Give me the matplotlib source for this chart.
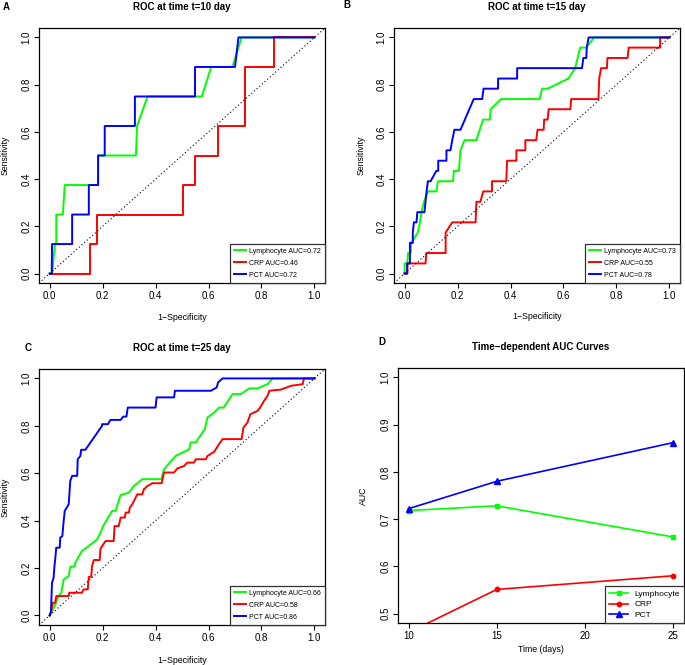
import numpy as np
import matplotlib
matplotlib.use("Agg")
import matplotlib.pyplot as plt

plt.rcParams['font.family'] = ['Liberation Sans', 'DejaVu Sans']
plt.rcParams['axes.linewidth'] = 0.9

# ---- ROC data, t=10 day
a_lym_fpr = [0, 0.01, 0.02, 0.025, 0.025, 0.05, 0.057, 0.183, 0.183, 0.326, 0.33, 0.37, 0.54, 0.575, 0.61, 0.69, 0.725, 1.0]
a_lym_tpr = [0, 0.0, 0.125, 0.125, 0.25, 0.25, 0.375, 0.375, 0.5, 0.5, 0.625, 0.75, 0.75, 0.75, 0.875, 0.875, 1.0, 1.0]
a_crp_fpr = [0, 0.152, 0.152, 0.179, 0.179, 0.505, 0.505, 0.548, 0.548, 0.634, 0.634, 0.739, 0.739, 0.848, 0.848, 1.0]
a_crp_tpr = [0, 0, 0.125, 0.125, 0.25, 0.25, 0.375, 0.375, 0.5, 0.5, 0.625, 0.625, 0.875, 0.875, 1.0, 1.0]
a_pct_fpr = [0, 0.008, 0.009, 0.085, 0.085, 0.148, 0.148, 0.183, 0.183, 0.208, 0.208, 0.322, 0.322, 0.549, 0.549, 0.70, 0.713, 1.0]
a_pct_tpr = [0, 0, 0.125, 0.125, 0.25, 0.25, 0.375, 0.375, 0.5, 0.5, 0.625, 0.625, 0.75, 0.75, 0.875, 0.875, 1.0, 1.0]

# ---- ROC data, t=15 day
b_lym_fpr = [0, 0, 0.01, 0.013, 0.023, 0.025, 0.05, 0.058, 0.064, 0.073, 0.088, 0.12, 0.126, 0.183, 0.186, 0.205, 0.211, 0.226,
             0.271, 0.296, 0.322, 0.325, 0.364, 0.51, 0.519, 0.54, 0.619, 0.644, 0.663, 0.686, 0.716, 1.0]
b_lym_tpr = [0, 0.043, 0.043, 0.087, 0.087, 0.13, 0.174, 0.217, 0.26, 0.304, 0.348, 0.348, 0.391, 0.391, 0.435, 0.435, 0.522, 0.565,
             0.565, 0.652, 0.652, 0.696, 0.739, 0.739, 0.783, 0.783, 0.826, 0.87, 0.957, 0.957, 1.0, 1.0]
b_crp_fpr = [0, 0.01, 0.01, 0.079, 0.082, 0.155, 0.155, 0.18, 0.268, 0.271, 0.286, 0.297, 0.33, 0.33, 0.384, 0.387, 0.422, 0.422,
             0.456, 0.456, 0.497, 0.502, 0.525, 0.527, 0.54, 0.544, 0.626, 0.629, 0.732, 0.735, 0.742, 0.764, 0.766, 0.842,
             0.846, 0.965, 0.965, 1.0]
b_crp_tpr = [0, 0, 0.043, 0.043, 0.087, 0.087, 0.174, 0.217, 0.217, 0.304, 0.304, 0.348, 0.348, 0.391, 0.391, 0.478, 0.478, 0.522,
             0.522, 0.565, 0.565, 0.609, 0.609, 0.652, 0.652, 0.696, 0.696, 0.739, 0.739, 0.826, 0.87, 0.87, 0.913, 0.913,
             0.957, 0.957, 1.0, 1.0]
b_pct_fpr = [0, 0.01, 0.01, 0.02, 0.02, 0.031, 0.031, 0.035, 0.045, 0.048, 0.075, 0.079, 0.083, 0.088, 0.098, 0.12, 0.127, 0.127,
             0.158, 0.158, 0.173, 0.18, 0.188, 0.211, 0.261, 0.293, 0.298, 0.353, 0.353, 0.425, 0.425, 0.67, 0.675, 0.686,
             0.688, 0.695, 1.0]
b_pct_tpr = [0, 0, 0.043, 0.043, 0.13, 0.13, 0.174, 0.217, 0.217, 0.26, 0.26, 0.304, 0.348, 0.391, 0.391, 0.435, 0.435, 0.478,
             0.478, 0.522, 0.522, 0.565, 0.609, 0.609, 0.739, 0.739, 0.783, 0.783, 0.826, 0.826, 0.87, 0.87, 0.913, 0.913,
             0.957, 1.0, 1.0]

# ---- ROC data, t=25 day
c_lym_fpr = [0, 0.009, 0.021, 0.034, 0.044, 0.053, 0.072, 0.078, 0.093, 0.097, 0.122, 0.164, 0.179, 0.192, 0.202, 0.236, 0.249,
             0.268, 0.299, 0.318, 0.35, 0.422, 0.432, 0.476, 0.527, 0.533, 0.552, 0.586, 0.596, 0.621, 0.64, 0.657, 0.691,
             0.722, 0.754, 0.785, 0.823, 0.842, 1.0]
c_lym_tpr = [0, 0.018, 0.046, 0.082, 0.096, 0.152, 0.166, 0.206, 0.206, 0.223, 0.272, 0.307, 0.321, 0.349, 0.377, 0.441, 0.441,
             0.508, 0.518, 0.546, 0.575, 0.575, 0.617, 0.673, 0.701, 0.73, 0.73, 0.786, 0.835, 0.856, 0.877, 0.877, 0.934,
             0.934, 0.958, 0.958, 0.976, 1.0, 1.0]
c_crp_fpr = [0, 0.005, 0.009, 0.013, 0.021, 0.025, 0.072, 0.074, 0.122, 0.128, 0.144, 0.148, 0.157, 0.16, 0.167, 0.189, 0.192,
             0.211, 0.242, 0.245, 0.261, 0.268, 0.284, 0.287, 0.299, 0.303, 0.312, 0.331, 0.35, 0.356, 0.369, 0.388, 0.423,
             0.432, 0.47, 0.482, 0.508, 0.52, 0.545, 0.552, 0.59, 0.596, 0.621, 0.64, 0.653, 0.725, 0.732, 0.747, 0.758,
             0.785, 0.795, 0.81, 0.823, 0.83, 0.874, 0.912, 0.956, 0.96, 1.0]
c_crp_tpr = [0, 0.011, 0.039, 0.054, 0.054, 0.082, 0.082, 0.096, 0.096, 0.11, 0.11, 0.163, 0.163, 0.208, 0.234, 0.234, 0.282,
             0.314, 0.314, 0.377, 0.377, 0.413, 0.413, 0.434, 0.434, 0.455, 0.469, 0.511, 0.511, 0.532, 0.546, 0.558, 0.558,
             0.603, 0.603, 0.62, 0.631, 0.645, 0.645, 0.659, 0.659, 0.673, 0.69, 0.723, 0.744, 0.744, 0.793, 0.814, 0.849,
             0.863, 0.877, 0.906, 0.927, 0.948, 0.953, 0.969, 0.976, 1.0, 1.0]
c_pct_fpr = [0, 0.005, 0.009, 0.015, 0.018, 0.021, 0.025, 0.038, 0.04, 0.048, 0.053, 0.057, 0.072, 0.078, 0.085, 0.104, 0.106,
             0.116, 0.119, 0.135, 0.198, 0.198, 0.22, 0.23, 0.268, 0.278, 0.29, 0.295, 0.4, 0.404, 0.47, 0.473, 0.609,
             0.631, 0.636, 0.653, 1.0]
c_pct_tpr = [0, 0.018, 0.138, 0.159, 0.206, 0.237, 0.286, 0.286, 0.328, 0.335, 0.399, 0.441, 0.469, 0.568, 0.589, 0.589, 0.659,
             0.673, 0.699, 0.699, 0.8, 0.807, 0.807, 0.825, 0.825, 0.839, 0.839, 0.877, 0.877, 0.92, 0.92, 0.948, 0.948,
             0.962, 0.983, 1.0, 1.0]

# ---- time dependent AUC
days = [10, 15, 25]
auc_lym = [0.718, 0.728, 0.662]
auc_crp = [0.46, 0.551, 0.58]
auc_pct = [0.722, 0.78, 0.862]

markers = ["Lymphocyte", "CRP", "PCT"]
colors = ["#00ff00", "#ff0000", "#0000ff"]

panels = [
    ("ROC at time t=10 day", [(a_lym_fpr, a_lym_tpr), (a_crp_fpr, a_crp_tpr), (a_pct_fpr, a_pct_tpr)], ["0.72", "0.46", "0.72"]),
    ("ROC at time t=15 day", [(b_lym_fpr, b_lym_tpr), (b_crp_fpr, b_crp_tpr), (b_pct_fpr, b_pct_tpr)], ["0.73", "0.55", "0.78"]),
    ("ROC at time t=25 day", [(c_lym_fpr, c_lym_tpr), (c_crp_fpr, c_crp_tpr), (c_pct_fpr, c_pct_tpr)], ["0.66", "0.58", "0.86"]),
]
positions = [[0.057, 0.5744, 0.4175, 0.3835],
             [0.5752, 0.5744, 0.4175, 0.3835],
             [0.057, 0.0602, 0.4175, 0.385]]
ylab_x = [-0.119, -0.115, -0.119]
xlab_y = [-0.137, -0.133, -0.137]

fig = plt.figure(figsize=(6.85, 6.65), dpi=100)

def style_axes(ax):
    ax.tick_params(direction='out', length=3.5, width=0.8, labelsize=7, pad=2)
    for lab in ax.get_yticklabels():
        lab.set_rotation(90)
        lab.set_va('center')

def place_labels(ax, xl, yl, lx, ly):
    ax.set_xlabel(xl, fontsize=6.3)
    ax.set_ylabel(yl, fontsize=6.3)
    ax.xaxis.set_label_coords(0.5, ly)
    ax.yaxis.set_label_coords(lx, 0.5)
    ax.xaxis.label.set_va('center')
    ax.yaxis.label.set_va('center')

for (title, curves, aucs), pos, lx, ly in zip(panels, positions, ylab_x, xlab_y):
    ax = fig.add_axes(pos)
    for (fx, ty), name, col, auc in zip(curves, markers, colors, aucs):
        ax.plot(fx, ty, color=col, lw=1.4, label=f"{name} AUC={auc}")
    ax.plot([-0.1, 1.1], [-0.1, 1.1], color='black', lw=0.8, ls=(0, (1, 2.2)))
    ax.set_xlim(-0.04, 1.04)
    ax.set_ylim(-0.04, 1.04)
    ax.set_xticks(np.arange(0, 1.01, 0.2))
    ax.set_yticks(np.arange(0, 1.01, 0.2))
    place_labels(ax, "1\u2212Specificity", "Sensitivity", lx, ly)
    ax.set_title(title, fontsize=7, fontweight='bold', pad=13)
    style_axes(ax)
    leg = ax.legend(loc='lower right', fontsize=5.0, borderaxespad=0, fancybox=False,
                    edgecolor='#333333', framealpha=1, handlelength=1.8, handletextpad=0.4,
                    borderpad=0.6, labelspacing=0.72)
    leg.get_frame().set_linewidth(0.9)

# ---- panel D
ax = fig.add_axes([0.581, 0.0632, 0.4175, 0.3835])
ax.plot(days, auc_lym, color=colors[0], lw=1.2, marker='s', ms=3.2, label=markers[0])
ax.plot(days, auc_crp, color=colors[1], lw=1.2, marker='o', ms=3.2, label=markers[1])
ax.plot(days, auc_pct, color=colors[2], lw=1.2, marker='^', ms=3.8, label=markers[2])
ax.set_xlim(9.4, 25.6)
ax.set_ylim(0.48, 1.02)
ax.set_xticks([10, 15, 20, 25])
ax.set_yticks([0.5, 0.6, 0.7, 0.8, 0.9, 1.0])
place_labels(ax, "Time (days)", "AUC", -0.122, -0.105)
ax.set_title("Time\u2212dependent AUC Curves", fontsize=7, fontweight='bold', pad=13)
style_axes(ax)
leg = ax.legend(loc='lower right', fontsize=6.0, borderaxespad=0, fancybox=False,
                edgecolor='#333333', framealpha=1, handlelength=2.2, handletextpad=0.8,
                borderpad=0.5, labelspacing=0.3)
leg.get_frame().set_linewidth(0.9)

for lab, x, y in [("A", 0.004, 0.989), ("B", 0.502, 0.992), ("C", 0.036, 0.477), ("D", 0.552, 0.486)]:
    fig.text(x, y, lab, fontsize=7, fontweight='bold', ha='left', va='center')

fig.savefig("out.png", dpi=100)
